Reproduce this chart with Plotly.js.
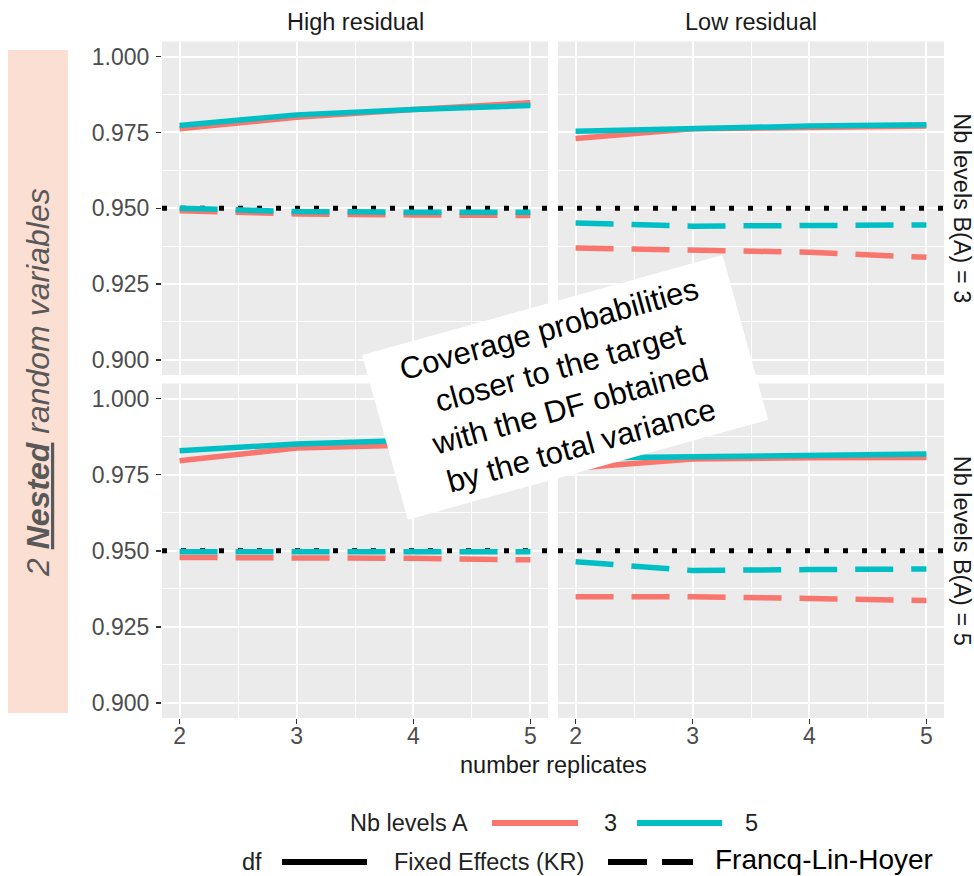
<!DOCTYPE html>
<html>
<head>
<meta charset="utf-8">
<script src="https://cdn.plot.ly/plotly-3.0.1.min.js"></script>
<style>html,body{margin:0;padding:0;background:#fff;}#chart{width:974px;height:876px;}</style>
</head>
<body>
<div id="chart"></div>
<script>
// ---------- data ----------
const replicates = [2, 3, 4, 5];
const xRange = [1.85, 5.15];
const yRange = [0.895, 1.005];
const residualLevels = ['High residual', 'Low residual'];
const bLevels = ['Nb levels B(A) = 3', 'Nb levels B(A) = 5'];
const aLevels = ['3', '5'];
const dfLevels = ['Fixed Effects (KR)', 'Francq-Lin-Hoyer'];
const target = 0.95;

// High residual, B(A) = 3
const hr_b3_a3_kr  = [0.9762, 0.9800, 0.9826, 0.9848];
const hr_b3_a5_kr  = [0.9773, 0.9808, 0.9826, 0.9839];
const hr_b3_a3_flh = [0.9492, 0.9481, 0.9478, 0.9476];
const hr_b3_a5_flh = [0.9500, 0.9489, 0.9487, 0.9487];
// Low residual, B(A) = 3
const lr_b3_a3_kr  = [0.9730, 0.9762, 0.9766, 0.9771];
const lr_b3_a5_kr  = [0.9754, 0.9764, 0.9771, 0.9775];
const lr_b3_a3_flh = [0.9369, 0.9364, 0.9355, 0.9338];
const lr_b3_a5_flh = [0.9451, 0.9441, 0.9443, 0.9445];
// High residual, B(A) = 5
const hr_b5_a3_kr  = [0.9796, 0.9838, 0.9848, 0.9856];
const hr_b5_a5_kr  = [0.9829, 0.9851, 0.9863, 0.9868];
const hr_b5_a3_flh = [0.9478, 0.9478, 0.9475, 0.9470];
const hr_b5_a5_flh = [0.9497, 0.9496, 0.9496, 0.9497];
// Low residual, B(A) = 5
const lr_b5_a3_kr  = [0.9772, 0.9802, 0.9806, 0.9807];
const lr_b5_a5_kr  = [0.9805, 0.9810, 0.9815, 0.9818];
const lr_b5_a3_flh = [0.9349, 0.9349, 0.9343, 0.9336];
const lr_b5_a5_flh = [0.9464, 0.9435, 0.9438, 0.9440];

const calloutText = 'Coverage probabilities<br>closer to the target<br>with the DF obtained<br>by the total variance';
const rowLabel = '<i>2 <b><u>Nested</u></b> random variables</i>';
const xTitle = 'number replicates';

// ---------- styling ----------
const FONT = 'Liberation Sans, Arial, sans-serif';
const colA = {'3': '#F8766D', '5': '#00BFC4'};
const dashDF = {'Fixed Effects (KR)': 'solid', 'Francq-Lin-Hoyer': '38px,18px'};

const panels = [
  {xa: 'x',  ya: 'y',  data: {'3': [hr_b3_a3_kr, hr_b3_a3_flh], '5': [hr_b3_a5_kr, hr_b3_a5_flh]}},
  {xa: 'x2', ya: 'y2', data: {'3': [lr_b3_a3_kr, lr_b3_a3_flh], '5': [lr_b3_a5_kr, lr_b3_a5_flh]}},
  {xa: 'x3', ya: 'y3', data: {'3': [hr_b5_a3_kr, hr_b5_a3_flh], '5': [hr_b5_a5_kr, hr_b5_a5_flh]}},
  {xa: 'x4', ya: 'y4', data: {'3': [lr_b5_a3_kr, lr_b5_a3_flh], '5': [lr_b5_a5_kr, lr_b5_a5_flh]}}
];

const traces = [];
// target reference lines (drawn first, beneath the series)
panels.forEach(p => {
  traces.push({
    type: 'scatter', mode: 'lines', x: xRange, y: [target, target],
    xaxis: p.xa, yaxis: p.ya, cliponaxis: false,
    line: {color: '#000000', width: 5, dash: '5px,14px'},
    showlegend: false, hoverinfo: 'skip'
  });
});
panels.forEach(p => {
  aLevels.forEach(a => {
    dfLevels.forEach((d, di) => {
      traces.push({
        type: 'scatter', mode: 'lines',
        x: replicates, y: p.data[a][di],
        xaxis: p.xa, yaxis: p.ya,
        line: {color: colA[a], width: 5.5, dash: dashDF[d]},
        showlegend: false, hoverinfo: 'skip'
      });
    });
  });
});

const W = 974, H = 876;
const px = v => v / W;
const py = v => 1 - v / H;

const xDomL = [px(162), px(548)];
const xDomR = [px(558), px(944)];
const yDomT = [py(375), py(41.5)];
const yDomB = [py(718), py(383.5)];

function xAxis(domain, anchor, showLabels) {
  return {
    domain: domain, anchor: anchor, range: xRange,
    tickmode: 'linear', tick0: 2, dtick: 1,
    showgrid: true, gridcolor: '#FFFFFF', gridwidth: 2,
    minor: {tickmode: 'linear', tick0: 2, dtick: 0.5, showgrid: true, gridcolor: '#FFFFFF', gridwidth: 1},
    zeroline: false, showline: false,
    ticks: showLabels ? 'outside' : '', ticklen: 5, tickwidth: 1.5, tickcolor: '#333333',
    showticklabels: showLabels, ticklabelstandoff: -8,
    tickfont: {family: FONT, size: 23, color: '#4D4D4D'}
  };
}
function yAxis(domain, anchor, showLabels) {
  return {
    domain: domain, anchor: anchor, range: yRange,
    tickmode: 'linear', tick0: 0.9, dtick: 0.025, tickformat: '.3f',
    showgrid: true, gridcolor: '#FFFFFF', gridwidth: 2,
    minor: {tickmode: 'linear', tick0: 0.9, dtick: 0.0125, showgrid: true, gridcolor: '#FFFFFF', gridwidth: 1},
    zeroline: false, showline: false,
    ticks: showLabels ? 'outside' : '', ticklen: 5, tickwidth: 1.5, tickcolor: '#333333',
    showticklabels: showLabels, ticklabelstandoff: 2,
    tickfont: {family: FONT, size: 23, color: '#4D4D4D'}
  };
}

const shapes = [];
// left row-label band
shapes.push({type: 'rect', xref: 'paper', yref: 'paper', x0: px(8), x1: px(68), y0: py(713), y1: py(50),
  fillcolor: '#FCDFD3', line: {width: 0}, layer: 'below'});
// legend keys
const leg1 = py(823), leg2 = py(862);
shapes.push({type: 'line', xref: 'paper', yref: 'paper', x0: px(492), x1: px(578), y0: leg1, y1: leg1, line: {color: colA['3'], width: 6}});
shapes.push({type: 'line', xref: 'paper', yref: 'paper', x0: px(637), x1: px(722), y0: leg1, y1: leg1, line: {color: colA['5'], width: 6}});
shapes.push({type: 'line', xref: 'paper', yref: 'paper', x0: px(282), x1: px(367), y0: leg2, y1: leg2, line: {color: '#000000', width: 6}});
shapes.push({type: 'line', xref: 'paper', yref: 'paper', x0: px(608), x1: px(693), y0: leg2, y1: leg2, line: {color: '#000000', width: 6, dash: '39px,15px'}});

const stripFont = {family: FONT, size: 23.5, color: '#1A1A1A'};
const legFont = {family: FONT, size: 23.5, color: '#222222'};
const annotations = [
  {text: residualLevels[0], x: (xDomL[0] + xDomL[1]) / 2, y: py(22), xref: 'paper', yref: 'paper', xanchor: 'center', yanchor: 'middle', showarrow: false, font: stripFont},
  {text: residualLevels[1], x: (xDomR[0] + xDomR[1]) / 2, y: py(22), xref: 'paper', yref: 'paper', xanchor: 'center', yanchor: 'middle', showarrow: false, font: stripFont},
  {text: bLevels[0], x: px(962), y: (yDomT[0] + yDomT[1]) / 2, xref: 'paper', yref: 'paper', xanchor: 'center', yanchor: 'middle', textangle: 90, showarrow: false, font: stripFont},
  {text: bLevels[1], x: px(962), y: (yDomB[0] + yDomB[1]) / 2, xref: 'paper', yref: 'paper', xanchor: 'center', yanchor: 'middle', textangle: 90, showarrow: false, font: stripFont},
  {text: xTitle, x: px(553), y: py(765), xref: 'paper', yref: 'paper', xanchor: 'center', yanchor: 'middle', showarrow: false, font: {family: FONT, size: 23.5, color: '#1A1A1A'}},
  {text: rowLabel, x: px(38), y: py(383), xref: 'paper', yref: 'paper', xanchor: 'center', yanchor: 'middle', textangle: -90, showarrow: false, font: {family: FONT, size: 32, color: '#595959'}},
  // legend texts
  {text: 'Nb levels A', x: px(470), y: leg1, xref: 'paper', yref: 'paper', xanchor: 'right', yanchor: 'middle', showarrow: false, font: legFont},
  {text: aLevels[0], x: px(602), y: leg1, xref: 'paper', yref: 'paper', xanchor: 'left', yanchor: 'middle', showarrow: false, font: legFont},
  {text: aLevels[1], x: px(743), y: leg1, xref: 'paper', yref: 'paper', xanchor: 'left', yanchor: 'middle', showarrow: false, font: legFont},
  {text: 'df', x: px(240), y: leg2, xref: 'paper', yref: 'paper', xanchor: 'left', yanchor: 'middle', showarrow: false, font: legFont},
  {text: dfLevels[0], x: px(392), y: leg2, xref: 'paper', yref: 'paper', xanchor: 'left', yanchor: 'middle', showarrow: false, font: legFont},
  {text: dfLevels[1], x: px(713), y: py(859), xref: 'paper', yref: 'paper', xanchor: 'left', yanchor: 'middle', showarrow: false, font: {family: FONT, size: 28, color: '#000000'}},
  // callout
  {text: calloutText, x: px(564.5), y: py(387), xref: 'paper', yref: 'paper', xanchor: 'center', yanchor: 'middle',
   textangle: -15.5, width: 374, height: 171, align: 'center', valign: 'middle', bgcolor: '#FFFFFF', borderwidth: 0, borderpad: 0,
   showarrow: false, font: {family: FONT, size: 31, color: '#000000'}}
];

const layout = {
  width: W, height: H,
  margin: {l: 0, r: 0, t: 0, b: 0},
  paper_bgcolor: '#FFFFFF', plot_bgcolor: '#EBEBEB',
  showlegend: false,
  xaxis: xAxis(xDomL, 'y', false),
  xaxis2: xAxis(xDomR, 'y2', false),
  xaxis3: xAxis(xDomL, 'y3', true),
  xaxis4: xAxis(xDomR, 'y4', true),
  yaxis: yAxis(yDomT, 'x', true),
  yaxis2: yAxis(yDomT, 'x2', false),
  yaxis3: yAxis(yDomB, 'x3', true),
  yaxis4: yAxis(yDomB, 'x4', false),
  shapes: shapes,
  annotations: annotations
};

Plotly.newPlot('chart', traces, layout, {staticPlot: true, displayModeBar: false});
</script>
</body>
</html>
